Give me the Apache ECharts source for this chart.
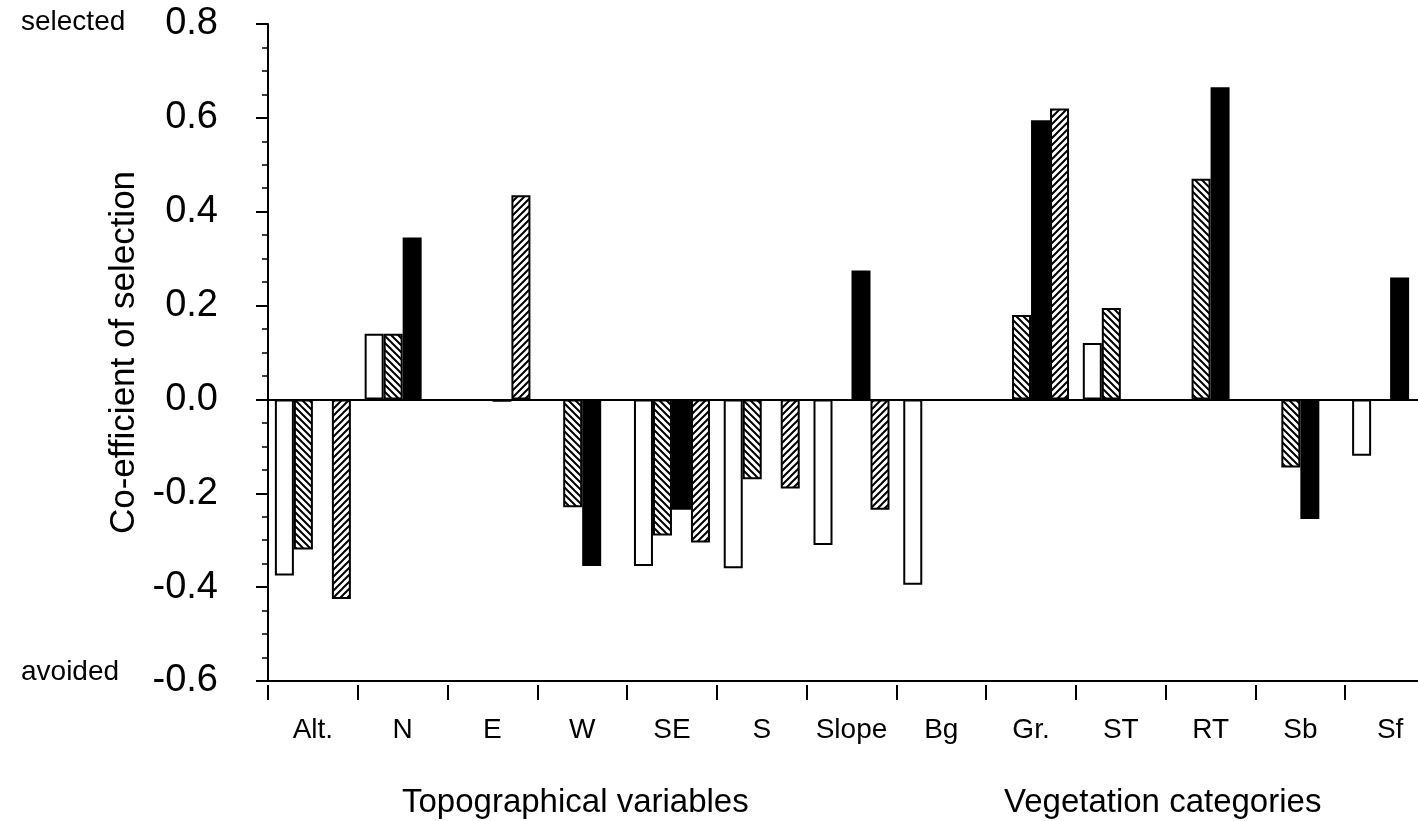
<!DOCTYPE html>
<html>
<head>
<meta charset="utf-8">
<script src="https://cdn.jsdelivr.net/npm/echarts@6/dist/echarts.min.js"></script>
<style>
html,body{margin:0;padding:0;background:#fff;}
#chart{width:1418px;height:821px;}
</style>
</head>
<body>
<div id="chart"></div>
<script>
// ---- data ----
const categories = ['Alt.', 'N', 'E', 'W', 'SE', 'S', 'Slope', 'Bg', 'Gr.', 'ST', 'RT', 'Sb', 'Sf'];
const seriesWhite    = [-0.375, 0.14, null, null, -0.355, -0.36, -0.31, -0.395, null, 0.12, null, null, -0.12];
const seriesBackHatch = [-0.32, 0.14, null, -0.23, -0.29, -0.17, null, null, 0.18, 0.195, 0.47, -0.145, null];
const seriesBlack    = [null, 0.345, -0.005, -0.355, -0.235, null, 0.275, null, 0.595, null, 0.665, -0.255, 0.26];
const seriesFwdHatch = [-0.425, null, 0.435, null, -0.305, -0.19, -0.235, null, 0.62, null, null, null, null];
const yTicks = [-0.6, -0.4, -0.2, 0.0, 0.2, 0.4, 0.6, 0.8];
const groupTitles = ['Topographical variables', 'Vegetation categories'];
const sideLabels = ['selected', 'avoided'];

// ---- hatch patterns ----
function hatch(back) {
  const s = 7;
  const c = document.createElement('canvas');
  c.width = s; c.height = s;
  const g = c.getContext('2d');
  g.fillStyle = '#fff';
  g.fillRect(0, 0, s, s);
  g.strokeStyle = '#000';
  g.lineWidth = 2;
  g.beginPath();
  if (back) {
    g.moveTo(-1, -1); g.lineTo(s + 1, s + 1);
    g.moveTo(-1, s - 1); g.lineTo(1, s + 1);
    g.moveTo(s - 1, -1); g.lineTo(s + 1, 1);
  } else {
    g.moveTo(-1, s + 1); g.lineTo(s + 1, -1);
    g.moveTo(-1, 1); g.lineTo(1, -1);
    g.moveTo(s - 1, s + 1); g.lineTo(s + 1, s - 1);
  }
  g.stroke();
  return c;
}

const FONT = "'Liberation Sans', Arial, Helvetica, sans-serif";
const chart = echarts.init(document.getElementById('chart'), null, {renderer: 'canvas'});

function barSeries(name, data, color, border) {
  return {
    name: name,
    type: 'bar',
    xAxisIndex: 0,
    yAxisIndex: 0,
    data: data,
    barWidth: 19,
    barGap: '0%',
    itemStyle: {color: color, borderColor: '#000', borderWidth: border},
    emphasis: {disabled: true},
    animation: false
  };
}

const series = [
  barSeries('white', seriesWhite, '#fff', 2),
  barSeries('back', seriesBackHatch, {image: hatch(true), repeat: 'repeat'}, 2),
  barSeries('black', seriesBlack, '#000', 0),
  barSeries('fwd', seriesFwdHatch, {image: hatch(false), repeat: 'repeat'}, 2)
];
series[0].markLine = {
  silent: true,
  symbol: ['none', 'none'],
  label: {show: false},
  lineStyle: {color: '#000', width: 2, type: 'solid'},
  data: [{yAxis: 0}],
  animation: false
};

const option = {
  backgroundColor: '#fff',
  animation: false,
  textStyle: {fontFamily: FONT, color: '#000'},
  grid: {left: 268, width: 1167, top: 24, bottom: 140, containLabel: false, outerBoundsMode: 'none'},
  title: [
    {text: sideLabels[0], left: 16, top: 3, textStyle: {fontFamily: FONT, fontSize: 28, fontWeight: 'normal', color: '#000'}},
    {text: sideLabels[1], left: 16, top: 653, textStyle: {fontFamily: FONT, fontSize: 28, fontWeight: 'normal', color: '#000'}},
    {text: groupTitles[0], left: 397, top: 781, textStyle: {fontFamily: FONT, fontSize: 33, fontWeight: 'normal', color: '#000'}},
    {text: groupTitles[1], left: 999, top: 781, textStyle: {fontFamily: FONT, fontSize: 33, fontWeight: 'normal', color: '#000'}}
  ],
  xAxis: [
    {
      type: 'category',
      data: categories,
      position: 'bottom',
      axisLine: {show: true, onZero: false, lineStyle: {color: '#000', width: 2}},
      axisTick: {show: false},
      axisLabel: {show: false},
      splitLine: {show: false}
    },
    {
      type: 'category',
      data: categories,
      position: 'bottom',
      offset: 4,
      axisLine: {show: false, onZero: false},
      axisTick: {show: true, length: 15, lineStyle: {color: '#000', width: 2}},
      axisLabel: {show: true, margin: 31, fontSize: 28, color: '#000', fontFamily: FONT, interval: 0},
      splitLine: {show: false}
    }
  ],
  yAxis: {
    type: 'value',
    min: yTicks[0],
    max: yTicks[yTicks.length - 1],
    interval: 0.2,
    name: 'Co-efficient of selection',
    nameLocation: 'middle',
    nameGap: 100,
    nameTextStyle: {fontFamily: FONT, fontSize: 35, color: '#000'},
    axisLine: {show: true, lineStyle: {color: '#000', width: 2}},
    axisTick: {show: true, length: 12, lineStyle: {color: '#000', width: 2}},
    minorTick: {show: true, splitNumber: 4, length: 6, lineStyle: {color: '#000', width: 1.5}},
    axisLabel: {
      margin: 50, fontSize: 38, color: '#000', fontFamily: FONT,
      formatter: v => (Math.abs(v) < 1e-9 ? 0 : v).toFixed(1)
    },
    splitLine: {show: false},
    minorSplitLine: {show: false}
  },
  series: series
};
chart.setOption(option);
</script>
</body>
</html>
